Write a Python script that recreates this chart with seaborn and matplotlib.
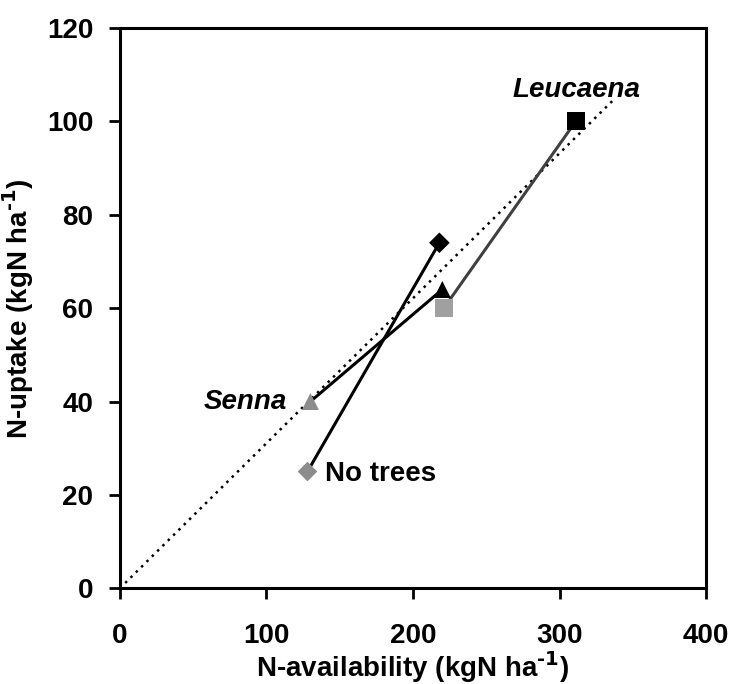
import matplotlib
matplotlib.use("Agg")
import matplotlib.pyplot as plt
import seaborn as sns
import pandas as pd

sns.set_style("ticks")
plt.rcParams.update({
    "font.family": ["Liberation Sans", "DejaVu Sans"],
    "font.weight": "bold",
    "axes.labelweight": "bold",
    "mathtext.default": "bf",
    "text.color": "black",
    "axes.labelcolor": "black",
    "xtick.color": "black",
    "ytick.color": "black",
})

# datos
n_disp = [128, 218, 130, 220, 221, 311]
n_abs = [25, 74, 40, 64, 60, 100]
tratamiento = ["No trees", "No trees", "Senna", "Senna", "Leucaena", "Leucaena"]
marcador = ["D", "D", "^", "^", "s", "s"]
color_pt = ["#8c8c8c", "black", "#8c8c8c", "black", "#a0a0a0", "black"]
tam_pt = [100, 110, 150, 150, 170, 170]
color_linea = {"No trees": "black", "Senna": "black", "Leucaena": "#404040"}

ref_x = [0, 338]
ref_y = [0, 105]

df = pd.DataFrame({"x": n_disp, "y": n_abs, "trat": tratamiento})

fig = plt.figure(figsize=(7.31, 6.84), dpi=100)
ax = fig.add_axes([0.164, 0.140, 0.802, 0.819])

# linea punteada de referencia
sns.lineplot(x=ref_x, y=ref_y, ax=ax, color="black", linestyle=(0, (1, 2)),
             linewidth=1.8, sort=False)

for t in ["No trees", "Senna", "Leucaena"]:
    sub = df[df["trat"] == t]
    sns.lineplot(data=sub, x="x", y="y", ax=ax, color=color_linea[t],
                 linewidth=2.2, sort=False, estimator=None)

for xi, yi, m, c, s in zip(n_disp, n_abs, marcador, color_pt, tam_pt):
    sns.scatterplot(x=[xi], y=[yi], ax=ax, marker=m, color=c, s=s,
                    edgecolor="none", zorder=5)

ax.text(355, 104, "Leucaena", style="italic", fontsize=20, ha="right", va="bottom")
ax.text(114, 40, "Senna", style="italic", fontsize=20, ha="right", va="center")
ax.text(140, 24.5, "No trees", fontsize=20, ha="left", va="center")

ax.set_xlim(0, 400)
ax.set_ylim(0, 120)
ax.set_xticks([0, 100, 200, 300, 400])
ax.set_yticks([0, 20, 40, 60, 80, 100, 120])
ax.tick_params(axis="both", labelsize=20, width=2, length=8, direction="out")
ax.tick_params(axis="x", pad=17)
ax.tick_params(axis="y", pad=11)
for lado in ax.spines.values():
    lado.set_linewidth(2.2)
    lado.set_color("black")

ax.set_xlabel("N-availability (kgN ha$^{\\text{-1}}$)", fontsize=20, labelpad=0)
ax.set_ylabel("N-uptake (kgN ha$^{\\text{-1}}$)", fontsize=20, labelpad=8)

fig.savefig("out.png", dpi=100)
